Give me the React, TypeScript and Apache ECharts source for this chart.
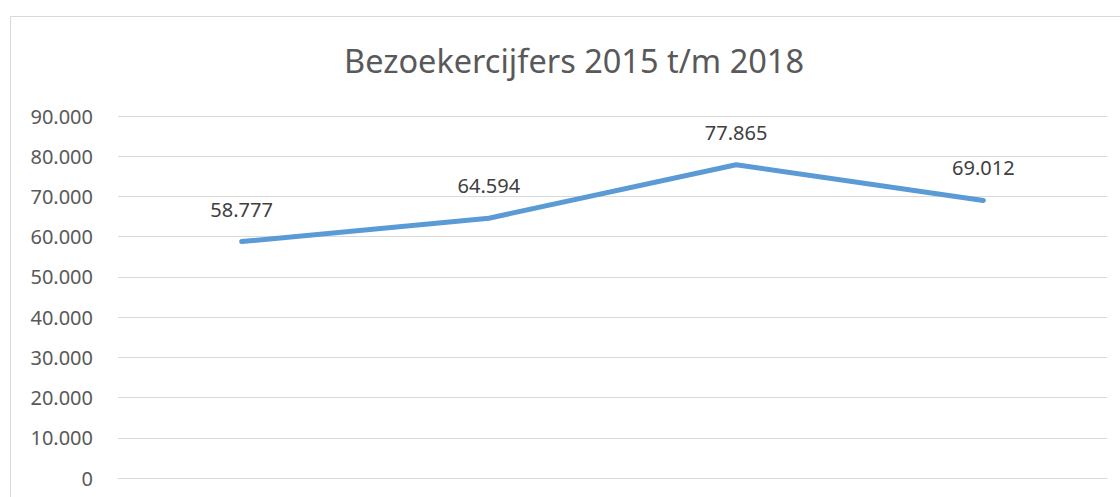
import React, { useEffect, useRef } from "react";
import * as echarts from "echarts";

const categories = ["2015", "2016", "2017", "2018"];
const visitors = [58777, 64594, 77865, 69012];
const titleText = "Bezoekercijfers 2015 t/m 2018";

const fmt = (v: number) => {
  const s = String(Math.round(v));
  return s.replace(/\B(?=(\d{3})+(?!\d))/g, ".");
};

const W = 1130;
const H = 540;

export default function App() {
  const ref = useRef<HTMLDivElement>(null);
  useEffect(() => {
    if (!ref.current) return;
    const chart = echarts.init(ref.current, undefined, { renderer: "svg" });
    chart.setOption({
      animation: false,
      backgroundColor: "#ffffff",
      title: {
        text: titleText,
        left: 339,
        top: 39,
        textStyle: {
          fontFamily: "Noto Sans",
          fontSize: 32.5,
          fontWeight: "normal",
          color: "#595959",
        },
      },
      graphic: [
        {
          type: "rect",
          shape: { x: 10.5, y: 16.5, width: 1200, height: 800 },
          style: { fill: "none", stroke: "#d9d9d9", lineWidth: 1 },
          silent: true,
          z: -1,
        },
      ],
      grid: { left: 118, right: W - 1107, top: 116, bottom: H - 478 },
      xAxis: {
        type: "category",
        data: categories,
        boundaryGap: true,
        axisLine: { show: true, lineStyle: { color: "#d9d9d9", width: 1 } },
        axisTick: { show: false },
        axisLabel: { show: false },
      },
      yAxis: {
        type: "value",
        min: 0,
        max: 90000,
        interval: 10000,
        axisLine: { show: false },
        axisTick: { show: false },
        splitLine: { lineStyle: { color: "#d9d9d9", width: 1 } },
        axisLabel: {
          color: "#595959",
          fontFamily: "Noto Sans",
          fontSize: 20,
          margin: 25,
          formatter: (v: number) => fmt(v),
        },
      },
      series: [
        {
          type: "line",
          data: visitors,
          symbol: "circle",
          symbolSize: 1,
          showSymbol: true,
          itemStyle: { color: "#5b9bd5" },
          lineStyle: { color: "#5b9bd5", width: 5, cap: "round", join: "round" },
          label: {
            show: true,
            position: "top",
            distance: 22,
            color: "#404040",
            fontFamily: "Noto Sans",
            fontSize: 20,
            formatter: (p: any) => fmt(p.value),
          },
        },
      ],
    });
    return () => chart.dispose();
  }, []);
  return (
    <div
      style={{
        position: "fixed",
        left: 0,
        top: 0,
        width: 1120,
        height: 497,
        overflow: "hidden",
        background: "#fff",
      }}
    >
      <div ref={ref} style={{ width: W, height: H }} />
    </div>
  );
}
